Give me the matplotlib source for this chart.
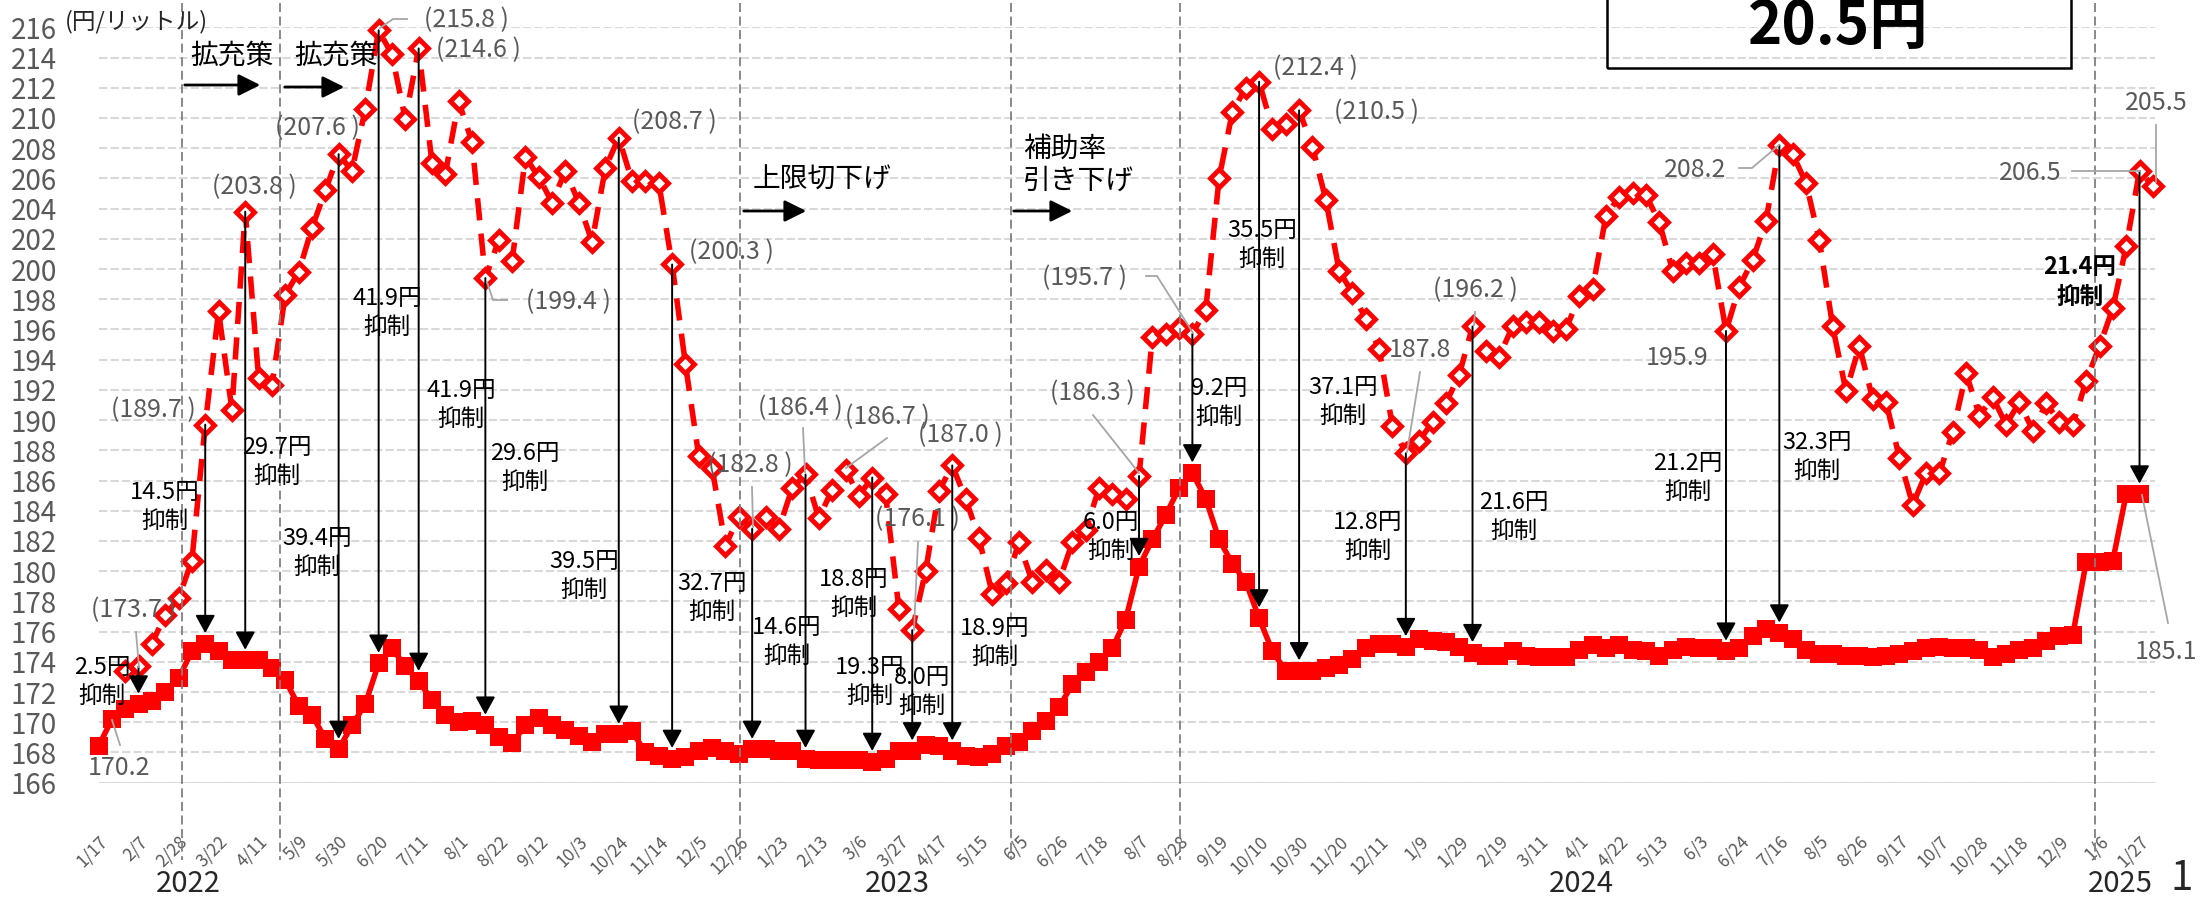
import numpy as np
import matplotlib.pyplot as plt
import matplotlib.transforms as mtransforms
from matplotlib.patches import Rectangle, FancyArrowPatch
from matplotlib.lines import Line2D

plt.rcParams['font.family'] = ['Noto Sans CJK JP', 'DejaVu Sans']

# weekly survey, 2022/1/17 .. 2025/1/27 (+ one projected week for the dashed series)
tick_labels = ['1/17', '2/7', '2/28', '3/22', '4/11', '5/9', '5/30', '6/20', '7/11', '8/1',
               '8/22', '9/12', '10/3', '10/24', '11/14', '12/5', '12/26', '1/23', '2/13', '3/6',
               '3/27', '4/17', '5/15', '6/5', '6/26', '7/18', '8/7', '8/28', '9/19', '10/10',
               '10/30', '11/20', '12/11', '1/9', '1/29', '2/19', '3/11', '4/1', '4/22', '5/13',
               '6/3', '6/24', '7/16', '8/5', '8/26', '9/17', '10/7', '10/28', '11/18', '12/9',
               '1/6', '1/27']

# actual retail price (yen/l)
solid = [168.4, 170.2, 170.9, 171.2, 171.4, 172.0, 172.9, 174.7, 175.2, 174.7,
         174.1, 174.1, 174.1, 173.6, 172.8, 171.1, 170.5, 168.9, 168.2, 169.8,
         171.2, 173.9, 174.9, 173.7, 172.7, 171.5, 170.5, 170.0, 170.1, 169.8,
         169.0, 168.6, 169.8, 170.3, 169.8, 169.5, 169.1, 168.7, 169.2, 169.2,
         169.4, 168.0, 167.8, 167.6, 167.7, 168.1, 168.3, 168.1, 167.9, 168.2,
         168.2, 168.1, 168.1, 167.6, 167.5, 167.5, 167.5, 167.5, 167.4, 167.6,
         168.1, 168.1, 168.5, 168.4, 168.1, 167.8, 167.7, 167.9, 168.4, 168.7,
         169.4, 170.1, 171.0, 172.5, 173.3, 174.0, 174.9, 176.8, 180.3, 182.1,
         183.7, 185.5, 186.5, 184.8, 182.1, 180.5, 179.3, 176.9, 174.7, 173.4,
         173.4, 173.4, 173.6, 173.8, 174.2, 174.9, 175.2, 175.2, 175.0, 175.5,
         175.4, 175.3, 175.0, 174.6, 174.4, 174.4, 174.7, 174.4, 174.3, 174.3,
         174.3, 174.8, 175.1, 174.9, 175.1, 174.8, 174.7, 174.4, 174.8, 175.0,
         174.9, 174.9, 174.7, 174.9, 175.7, 176.2, 175.9, 175.5, 174.8, 174.5,
         174.5, 174.4, 174.4, 174.3, 174.4, 174.5, 174.7, 174.9, 175.0, 174.9,
         174.9, 174.8, 174.3, 174.5, 174.8, 174.9, 175.4, 175.7, 175.8, 180.6,
         180.6, 180.7, 185.1, 185.1]

# price without the subsidy (yen/l)
dashed = [np.nan, np.nan, 173.4, 173.7, 175.2, 177.1, 178.2, 180.7, 189.7, 197.2,
          190.7, 203.8, 192.8, 192.3, 198.3, 199.8, 202.7, 205.2, 207.6, 206.5,
          210.6, 215.8, 214.2, 209.9, 214.6, 207.0, 206.3, 211.1, 208.4, 199.4,
          201.9, 200.5, 207.4, 206.1, 204.4, 206.5, 204.4, 201.8, 206.7, 208.7,
          205.8, 205.8, 205.7, 200.3, 193.7, 187.6, 186.8, 181.7, 183.6, 182.8,
          183.6, 182.8, 185.5, 186.4, 183.5, 185.4, 186.7, 185.0, 186.2, 185.1,
          177.5, 176.1, 180.0, 185.3, 187.0, 184.8, 182.2, 178.5, 179.2, 181.9,
          179.3, 180.1, 179.3, 181.9, 182.7, 185.5, 185.1, 184.8, 186.3, 195.5,
          195.7, 196.1, 195.7, 197.3, 206.0, 210.4, 212.0, 212.4, 209.3, 209.6,
          210.5, 208.1, 204.6, 199.9, 198.4, 196.7, 194.7, 189.6, 187.8, 188.6,
          189.9, 191.1, 193.0, 196.2, 194.6, 194.2, 196.2, 196.5, 196.5, 195.9,
          196.0, 198.2, 198.7, 203.5, 204.8, 205.0, 204.9, 203.1, 199.9, 200.4,
          200.4, 201.0, 195.9, 198.8, 200.6, 203.2, 208.2, 207.6, 205.7, 201.9,
          196.2, 191.9, 194.9, 191.4, 191.2, 187.5, 184.4, 186.5, 186.5, 189.2,
          193.1, 190.3, 191.5, 189.7, 191.2, 189.3, 191.1, 189.9, 189.7, 192.6,
          194.9, 197.4, 201.5, 206.5, 205.5]

# weeks with a "xx円 抑制" arrow
arrow_weeks = [3, 8, 11, 18, 21, 24, 29, 39, 43, 49, 53, 58, 61, 64, 78, 82, 87, 90,
               98, 103, 122, 126, 153]
# policy change lines (week position)
policy_weeks = [6.24, 13.6, 48.1, 68.4, 81.1, 149.66]

W, H = 2206, 898


def P(x, y):
    return (x / W, 1 - y / H)


fig = plt.figure(figsize=(W / 100, H / 100), dpi=100)
ax = fig.add_axes([98.5 / W, 115.3 / H, 2056.5 / W, 755.4 / H])

xs = np.arange(len(solid))
xd = np.arange(len(dashed))
ax.plot(xd, dashed, color='red', lw=4, dashes=(4, 2.4), marker='D', ms=9,
        mfc='white', mec='red', mew=3.5, zorder=4, clip_on=False)
ax.plot(xs, solid, color='red', lw=4, marker='s', ms=13, mew=0, zorder=3, clip_on=False)

for i in arrow_weeks:
    ax.annotate('', xy=(i, solid[i] + 0.7), xytext=(i, dashed[i]),
                arrowprops=dict(arrowstyle='-|>,head_length=0.55,head_width=0.3',
                                color='black', lw=1.4, mutation_scale=20,
                                shrinkA=0, shrinkB=0), zorder=6)

ax.set_xlim(0, 154.16)
ax.set_ylim(166, 216)
ax.set_yticks(np.arange(166, 217, 2))
ax.yaxis.grid(True, color='#D9D9D9', lw=1.5, ls=(0, (4, 1.5)))
ax.set_axisbelow(True)
for s in ax.spines.values():
    s.set_visible(False)
ax.axhline(166, color='#D9D9D9', lw=2, zorder=1)
ax.tick_params(axis='y', length=0, pad=30, labelsize=20, labelcolor='#595959')
ax.set_xticks(np.arange(0, 154, 3))
ax.set_xticklabels(tick_labels, rotation=45, ha='right', va='top',
                   rotation_mode='anchor', fontsize=12.5, color='#595959')
ax.tick_params(axis='x', length=0, pad=36)

trans = mtransforms.blended_transform_factory(ax.transData, fig.transFigure)
for xv in policy_weeks:
    fig.add_artist(Line2D([xv, xv], [1 - 3 / H, 1 - 860 / H], transform=trans,
                          color='#808080', lw=1.3, ls=(0, (5, 2.5))))

# value labels
value_labels = [
    ('(189.7 )', 153, 410), ('(173.7 )', 133, 610), ('170.2', 119, 768),
    ('(203.8 )', 254, 187), ('(207.6 )', 317, 128), ('(215.8 )', 466, 20),
    ('(214.6 )', 478, 50), ('(199.4 )', 568, 302), ('(208.7 )', 674, 122),
    ('(200.3 )', 731, 252), ('(182.8 )', 750, 465), ('(186.4 )', 800, 408),
    ('(186.7 )', 887, 417), ('(187.0 )', 960, 435), ('(176.1 )', 917, 519),
    ('(186.3 )', 1092, 393), ('(195.7 )', 1085, 278), ('(212.4 )', 1315, 68),
    ('(210.5 )', 1376, 112), ('187.8', 1420, 350), ('(196.2 )', 1475, 290),
    ('195.9', 1677, 358), ('208.2', 1695, 170), ('206.5', 2030, 173),
    ('205.5', 2156, 103), ('185.1', 2166, 652),
]
for s, x, y in value_labels:
    fig.text(*P(x, y), s, ha='center', va='center', fontsize=18, color='#595959')

leaders = [
    [(136, 632), (139, 667)], [(120, 745), (112, 720)],
    [(380, 28), (393, 19), (407, 19)], [(487, 282), (493, 300), (507, 300)],
    [(752, 487), (753, 527)], [(803, 428), (805, 472)], [(887, 438), (846, 468)],
    [(918, 542), (914, 630)], [(1093, 415), (1139, 473)],
    [(1146, 276), (1157, 276), (1193, 333)], [(1420, 372), (1407, 452)],
    [(1475, 312), (1474, 325)], [(1739, 168), (1752, 168), (1779, 145)],
    [(2072, 171), (2140, 171)], [(2156, 125), (2156, 182)], [(2168, 623), (2142, 495)],
]
for pts in leaders:
    fig.add_artist(Line2D([p[0] / W for p in pts], [1 - p[1] / H for p in pts],
                          color='#A6A6A6', lw=1.3, zorder=7))

cut_labels = [
    ('2.5円\n抑制', 102, 682), ('14.5円\n抑制', 165, 507), ('29.7円\n抑制', 277, 462),
    ('39.4円\n抑制', 317, 553), ('41.9円\n抑制', 387, 313), ('41.9円\n抑制', 461, 405),
    ('29.6円\n抑制', 525, 468), ('39.5円\n抑制', 584, 576), ('32.7円\n抑制', 712, 598),
    ('14.6円\n抑制', 787, 642), ('18.8円\n抑制', 854, 594), ('19.3円\n抑制', 870, 682),
    ('8.0円\n抑制', 922, 692), ('18.9円\n抑制', 995, 643), ('6.0円\n抑制', 1111, 537),
    ('9.2円\n抑制', 1219, 403), ('35.5円\n抑制', 1262, 245), ('37.1円\n抑制', 1343, 402),
    ('12.8円\n抑制', 1368, 537), ('21.6円\n抑制', 1514, 517), ('21.2円\n抑制', 1688, 478),
    ('32.3円\n抑制', 1817, 457),
]
for s, x, y in cut_labels:
    fig.text(*P(x, y), s, ha='center', va='center', fontsize=17, color='black',
             linespacing=1.35, zorder=8)
fig.text(*P(2080, 282), '21.4円\n抑制', ha='center', va='center', fontsize=17,
         fontweight='bold', color='black', linespacing=1.35, zorder=8)

# policy notes
fig.text(*P(136, 22), '(円/リットル)', ha='center', va='center', fontsize=17, color='#262626')
for s, x in [('拡充策', 232), ('拡充策', 336)]:
    fig.text(*P(x, 56), s, ha='center', va='center', fontsize=20, color='black')
fig.text(*P(822, 180), '上限切下げ', ha='center', va='center', fontsize=20, color='black')
fig.text(*P(1023, 165), '補助率\n引き下げ', ha='left', va='center', fontsize=20,
         color='black', linespacing=1.1)
for (x0, x1, y) in [(182, 263, 85), (282, 347, 87), (741, 809, 211), (1011, 1075, 211)]:
    fig.add_artist(FancyArrowPatch(
        P(x0, y), P(x1, y), transform=fig.transFigure,
        arrowstyle='-|>,head_length=0.6,head_width=0.3', mutation_scale=22,
        color='black', lw=2))

# years
for s, x in [('2022', 188), ('2023', 897), ('2024', 1581), ('2025', 2120)]:
    fig.text(*P(x, 884), s, ha='center', va='center', fontsize=21, color='#262626')
fig.text(*P(2182, 878), '1', ha='center', va='center', fontsize=29, color='#262626')

# boxed headline
fig.add_artist(Rectangle(P(1607, 68), (2071 - 1607) / W, 75 / H, transform=fig.transFigure,
                         fill=False, ec='black', lw=1.8))
fig.text(*P(1838, 27), '20.5円', ha='center', va='center', fontsize=42,
         fontweight='bold', color='black')

fig.savefig('out.png', dpi=100)
